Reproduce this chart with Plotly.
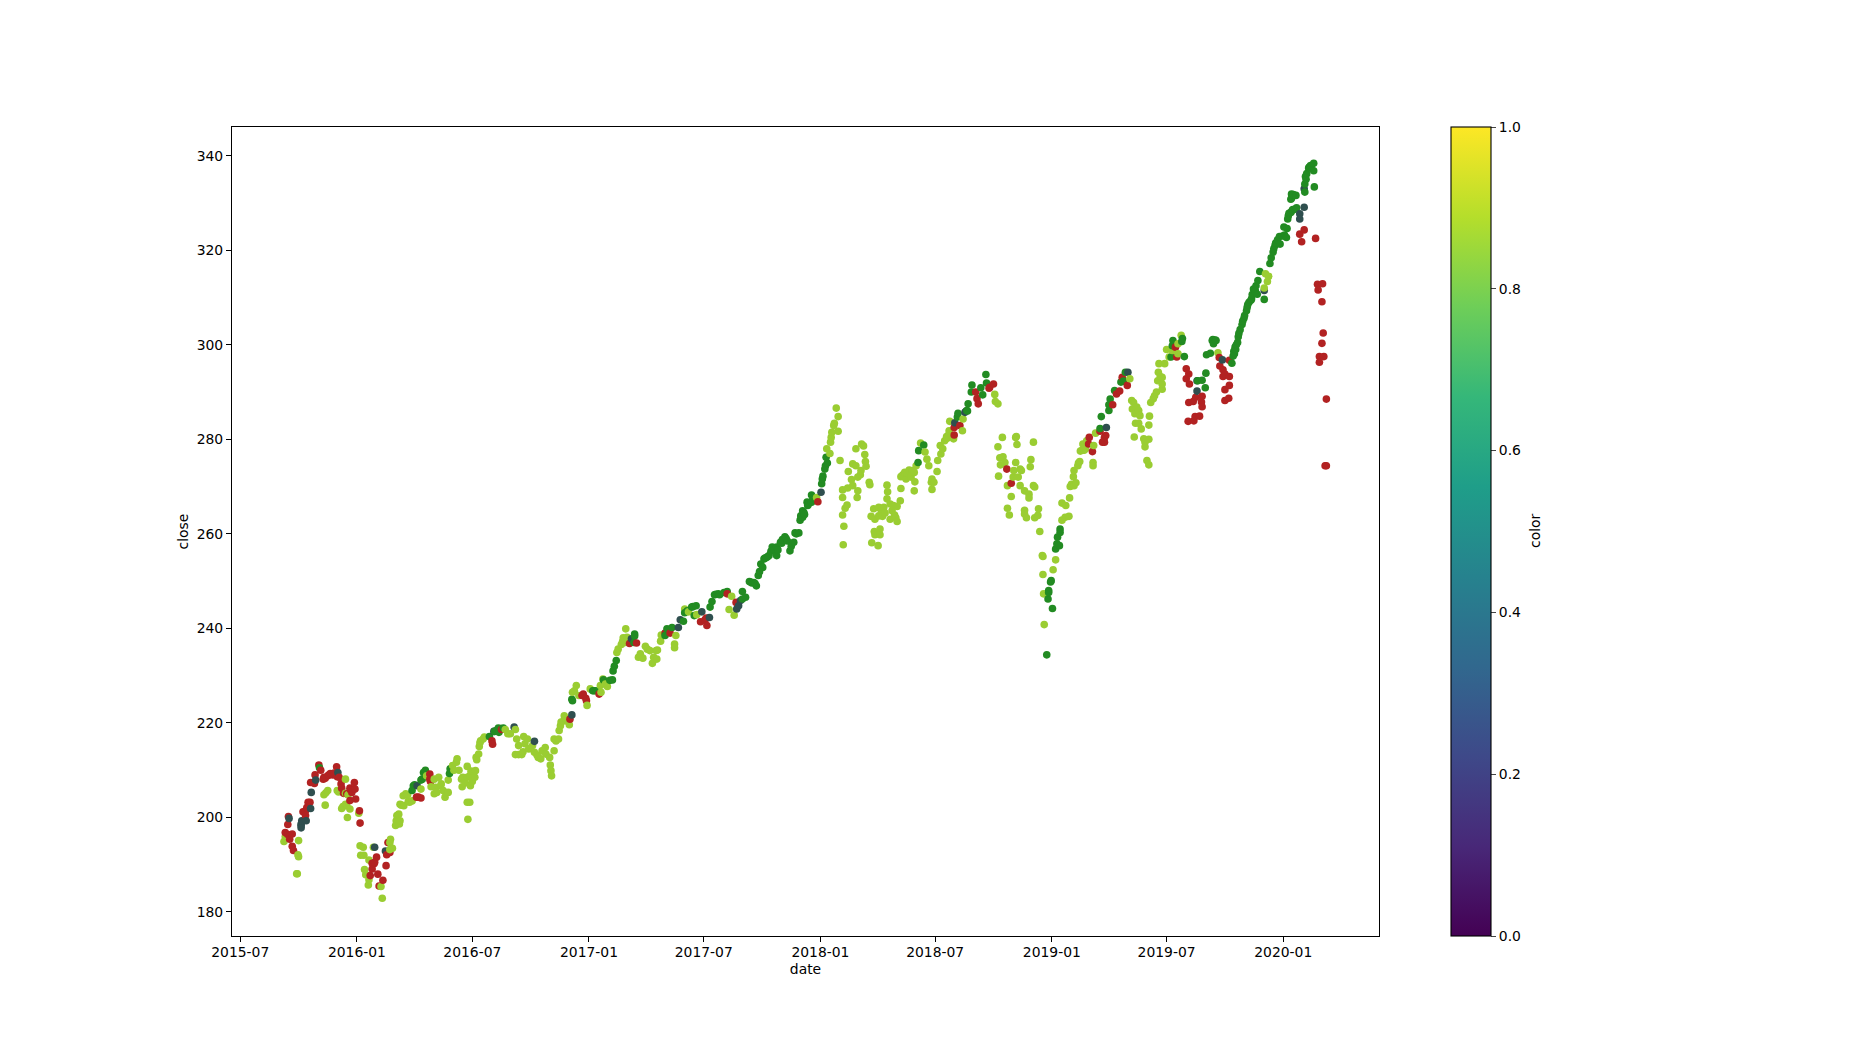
import plotly.graph_objects as go

# (date, close, signal); L lime, G green, R red, S slate
rows_2015 = [
("2015-09-08",194.9,"L"),("2015-09-10",195.9,"L"),("2015-09-10",196.8,"R"),("2015-09-15",200.2,"R"),("2015-09-16",199.8,"S"),
("2015-09-14",198.5,"R"),("2015-09-14",196.4,"R"),("2015-09-17",195.4,"R"),("2015-09-21",196.5,"R"),("2015-09-21",193.9,"R"),
("2015-09-23",193.0,"R"),("2015-10-01",195.1,"L"),("2015-09-30",192.1,"L"),("2015-10-01",191.7,"L"),("2015-09-28",188.1,"L"),
("2015-09-29",188.1,"L"),("2015-10-05",198.3,"S"),("2015-10-05",198.6,"S"),("2015-10-05",197.8,"S"),("2015-10-06",199.3,"S"),
("2015-10-13",199.3,"S"),("2015-10-08",201.2,"R"),("2015-10-12",201.4,"R"),("2015-10-12",200.4,"R"),("2015-10-16",203.2,"R"),
("2015-10-19",203.2,"R"),("2015-10-14",202.1,"R"),("2015-10-20",201.9,"S"),("2015-10-21",205.3,"S"),("2015-10-20",207.4,"R"),
("2015-10-27",209.0,"R"),("2015-11-02",211.1,"R"),("2015-11-03",210.5,"G"),("2015-11-05",210.0,"R"),("2015-10-28",207.9,"S"),
("2015-10-26",207.2,"R"),("2015-11-09",208.1,"R"),("2015-11-10",208.5,"R"),("2015-11-16",208.8,"R"),("2015-11-20",209.3,"R"),
("2015-11-24",209.0,"R"),("2015-11-30",210.7,"R"),("2015-12-02",209.5,"S"),("2015-12-01",208.6,"R"),("2015-12-04",208.5,"R"),
("2015-12-07",207.1,"R"),("2015-12-14",208.1,"L"),("2015-12-11",205.1,"R"),("2015-12-16",205.0,"R"),("2015-12-21",206.2,"R"),
("2015-12-28",207.4,"R"),("2015-12-29",206.0,"R"),("2015-12-24",205.3,"R"),("2015-12-30",203.9,"R"),("2015-12-21",203.6,"R"),
("2015-11-10",204.8,"L"),("2015-11-16",205.7,"L"),("2015-11-12",202.6,"L"),("2015-12-01",205.7,"L"),("2015-12-07",206.0,"L"),
("2015-12-14",205.1,"L"),("2015-12-14",202.8,"L"),("2015-12-08",201.9,"L"),("2015-12-21",201.8,"L"),("2015-12-17",200.0,"L"),
("2015-12-16",202.5,"L"),("2015-12-10",202.3,"L"),("2015-11-13",205.2,"L"),("2015-12-03",205.4,"L"),("2015-12-18",204.8,"L"),
("2015-11-12",208.3,"R"),("2015-11-18",209.0,"R"),("2015-11-26",209.4,"R"),("2015-12-08",206.2,"R"),("2015-12-22",205.8,"R"),
]

rows_2016 = [
("2016-01-05",201.4,"R"),("2016-01-04",200.9,"L"),("2016-01-06",198.8,"R"),("2016-01-06",194.0,"L"),("2016-01-11",193.7,"L"),
("2016-01-07",192.0,"L"),("2016-01-12",192.0,"L"),("2016-01-20",191.0,"L"),("2016-01-13",189.0,"L"),("2016-01-15",187.9,"L"),
("2016-01-19",185.7,"L"),("2016-01-20",186.8,"L"),("2016-01-27",193.7,"L"),("2016-01-29",193.7,"S"),("2016-01-25",190.3,"R"),
("2016-02-01",191.6,"R"),("2016-01-28",190.2,"R"),("2016-01-25",189.1,"R"),("2016-01-22",187.7,"R"),("2016-02-03",188.0,"R"),
("2016-01-29",190.5,"R"),("2016-02-16",189.8,"R"),("2016-02-11",186.7,"R"),("2016-02-05",185.5,"R"),("2016-02-08",185.4,"L"),
("2016-02-10",182.9,"L"),("2016-02-15",192.9,"S"),("2016-02-17",192.1,"R"),("2016-02-22",192.6,"R"),("2016-02-19",194.7,"R"),
("2016-02-23",195.4,"L"),("2016-02-22",194.7,"L"),("2016-02-26",193.5,"L"),("2016-02-22",193.2,"L"),("2016-03-02",198.3,"L"),
("2016-03-03",199.3,"L"),("2016-03-04",200.4,"L"),("2016-03-09",199.3,"L"),("2016-03-07",200.7,"L"),("2016-03-09",202.8,"L"),
("2016-03-15",202.5,"L"),("2016-03-14",204.6,"L"),("2016-03-21",204.8,"L"),("2016-03-24",203.2,"L"),("2016-03-11",202.6,"L"),
("2016-03-22",203.4,"L"),("2016-03-28",203.5,"L"),("2016-03-04",198.9,"L"),("2016-03-08",198.6,"L"),("2016-03-18",205.0,"L"),
("2016-03-28",205.7,"G"),("2016-03-30",206.7,"G"),("2016-04-05",206.7,"S"),("2016-04-01",206.9,"G"),("2016-04-07",204.3,"R"),
("2016-04-04",204.3,"R"),("2016-04-11",204.1,"R"),("2016-04-11",206.0,"L"),("2016-04-13",208.1,"G"),("2016-04-11",207.9,"G"),
("2016-04-18",210.0,"G"),("2016-04-15",209.5,"G"),("2016-04-20",208.8,"L"),("2016-04-25",209.2,"R"),("2016-04-25",208.1,"R"),
("2016-04-26",207.6,"R"),("2016-05-02",208.1,"L"),("2016-05-09",208.5,"L"),("2016-04-27",206.5,"L"),("2016-05-04",206.4,"L"),
("2016-05-02",205.0,"L"),("2016-05-12",206.7,"L"),("2016-05-13",207.1,"L"),("2016-05-06",205.3,"L"),("2016-05-16",205.7,"L"),
("2016-05-19",204.3,"L"),("2016-05-24",205.3,"L"),("2016-05-24",207.9,"L"),("2016-05-26",209.3,"G"),("2016-05-27",210.3,"G"),
("2016-06-02",210.0,"L"),("2016-05-31",211.0,"L"),("2016-06-07",212.4,"L"),("2016-06-06",211.7,"L"),("2016-06-10",210.0,"L"),
("2016-06-23",210.8,"L"),("2016-06-16",208.5,"L"),("2016-06-14",208.1,"L"),("2016-06-23",208.5,"L"),("2016-06-15",206.5,"L"),
("2016-06-28",206.7,"L"),("2016-07-06",209.9,"L"),("2016-07-05",208.5,"L"),("2016-06-29",209.8,"L"),("2016-06-23",203.2,"L"),
("2016-06-27",203.2,"L"),("2016-06-24",199.6,"L"),("2016-06-20",207.3,"L"),("2016-06-27",208.8,"L"),("2016-07-01",207.6,"L"),
("2016-07-07",212.7,"L"),("2016-07-11",213.4,"L"),("2016-07-12",215.0,"L"),("2016-07-14",216.2,"L"),("2016-07-20",217.0,"L"),
("2016-07-13",215.8,"L"),("2016-07-08",212.2,"L"),("2016-07-18",216.6,"L"),("2016-07-28",217.1,"G"),("2016-08-01",216.2,"R"),
("2016-08-02",215.5,"R"),("2016-08-04",218.2,"S"),("2016-08-05",218.2,"G"),("2016-08-11",218.9,"G"),("2016-08-19",218.9,"G"),
("2016-08-16",218.6,"R"),("2016-08-12",218.0,"G"),("2016-08-26",217.7,"L"),("2016-08-30",217.7,"L"),("2016-09-05",219.1,"S"),
("2016-09-07",218.6,"L"),("2016-09-09",216.6,"L"),("2016-09-12",215.2,"L"),("2016-09-20",217.1,"L"),("2016-09-26",216.6,"L"),
("2016-09-07",213.3,"L"),("2016-09-12",213.3,"L"),("2016-09-17",213.3,"L"),("2016-09-19",213.9,"L"),("2016-09-28",214.5,"L"),
("2016-10-04",215.2,"L"),("2016-10-07",216.1,"S"),("2016-10-07",213.8,"L"),("2016-10-13",212.7,"L"),("2016-10-17",212.4,"L"),
("2016-10-19",214.1,"L"),("2016-10-24",214.8,"L"),("2016-10-25",213.4,"L"),("2016-10-31",212.7,"L"),("2016-11-07",214.1,"L"),
("2016-11-01",211.1,"L"),("2016-11-02",209.9,"L"),("2016-11-03",208.8,"L"),("2016-11-07",216.6,"L"),("2016-11-14",216.6,"L"),
("2016-11-15",218.4,"L"),("2016-11-17",219.4,"L"),("2016-11-23",221.5,"L"),("2016-12-01",219.6,"L"),("2016-12-02",220.8,"R"),
("2016-12-05",221.7,"S"),("2016-11-22",220.4,"L"),("2016-11-29",220.3,"L"),("2016-11-10",216.2,"L"),("2016-10-21",214.0,"L"),
("2016-12-06",224.7,"G"),("2016-12-05",225.0,"G"),("2016-12-12",227.9,"L"),("2016-12-06",226.5,"L"),("2016-12-16",225.8,"L"),
("2016-12-21",225.8,"R"),("2016-12-23",226.1,"R"),("2016-12-28",224.7,"R"),("2016-12-29",223.7,"L"),("2016-12-27",225.2,"R"),
("2016-08-08",218.4,"G"),("2016-08-15",218.8,"G"),("2016-08-22",218.6,"L"),("2016-09-22",215.6,"L"),("2016-10-11",213.2,"L"),
("2016-11-18",220.2,"L"),("2016-11-25",221.0,"L"),("2016-12-09",226.8,"L"),
]

rows_2017 = [
("2017-01-03",227.2,"L"),("2017-01-09",226.8,"G"),("2017-01-17",226.1,"R"),("2017-01-07",226.8,"G"),("2017-01-12",226.8,"G"),
("2017-01-19",227.9,"L"),("2017-01-20",226.5,"L"),("2017-01-23",229.3,"L"),("2017-01-24",229.1,"G"),("2017-01-30",227.7,"L"),
("2017-02-07",229.1,"G"),("2017-01-27",228.2,"L"),("2017-02-08",231.0,"G"),("2017-02-10",232.0,"G"),("2017-02-13",233.2,"G"),
("2017-02-14",234.9,"L"),("2017-02-21",236.6,"L"),("2017-02-28",239.9,"L"),("2017-03-02",238.1,"L"),("2017-03-14",238.8,"G"),
("2017-03-14",238.4,"G"),("2017-03-09",237.8,"S"),("2017-03-06",236.8,"R"),("2017-03-17",236.9,"R"),("2017-03-13",237.0,"G"),
("2017-02-27",237.0,"L"),("2017-03-31",236.2,"L"),("2017-03-20",233.9,"L"),("2017-03-27",233.7,"L"),("2017-03-23",234.6,"L"),
("2017-04-03",235.6,"L"),("2017-04-07",235.3,"L"),("2017-04-17",235.3,"L"),("2017-04-19",235.4,"L"),("2017-04-18",233.5,"L"),
("2017-04-11",232.6,"L"),("2017-04-13",233.9,"L"),("2017-04-24",237.3,"L"),("2017-04-25",238.6,"L"),("2017-05-01",239.0,"R"),
("2017-05-01",238.5,"G"),("2017-05-04",239.9,"G"),("2017-05-12",240.2,"G"),("2017-05-09",239.0,"R"),("2017-05-18",238.5,"L"),
("2017-05-16",236.7,"L"),("2017-05-16",235.9,"L"),("2017-05-22",240.2,"S"),("2017-05-25",241.8,"S"),("2017-05-30",241.5,"G"),
("2017-06-01",244.1,"L"),("2017-06-01",243.3,"G"),("2017-06-07",243.5,"L"),("2017-06-12",244.5,"G"),("2017-06-19",244.8,"G"),
("2017-06-16",242.7,"G"),("2017-06-20",242.9,"L"),("2017-06-28",243.5,"S"),("2017-07-10",242.3,"S"),("2017-07-05",242.2,"R"),
("2017-06-26",241.4,"R"),("2017-07-03",241.8,"R"),("2017-07-06",240.6,"R"),("2017-07-11",244.5,"G"),("2017-07-14",245.7,"G"),
("2017-07-18",247.1,"G"),("2017-07-26",247.1,"G"),("2017-08-07",247.8,"G"),("2017-08-07",247.3,"R"),("2017-08-14",246.8,"L"),
("2017-08-10",244.0,"L"),("2017-08-18",242.8,"L"),("2017-08-21",245.5,"R"),("2017-08-28",245.9,"S"),("2017-08-25",244.8,"S"),
("2017-08-22",244.1,"S"),("2017-08-31",247.8,"G"),("2017-09-05",246.6,"G"),("2017-08-31",246.2,"G"),("2017-09-11",249.9,"G"),
("2017-09-18",249.7,"G"),("2017-09-22",249.0,"G"),("2017-09-25",251.2,"G"),("2017-10-02",252.9,"G"),("2017-10-04",254.7,"G"),
("2017-10-12",255.4,"G"),("2017-10-24",255.4,"G"),("2017-10-17",257.2,"G"),("2017-10-24",257.2,"G"),("2017-11-06",259.4,"G"),
("2017-10-30",258.2,"G"),("2017-11-20",258.2,"G"),("2017-11-14",256.4,"G"),("2017-11-22",260.2,"G"),("2017-11-28",260.2,"G"),
("2017-11-30",262.9,"G"),("2017-12-04",264.9,"G"),("2017-12-07",264.1,"G"),("2017-12-12",266.0,"G"),("2017-12-18",266.7,"G"),
("2017-12-28",266.8,"R"),("2017-09-27",252.0,"G"),("2017-09-29",253.6,"G"),("2017-10-08",255.0,"G"),("2017-10-20",256.6,"G"),
("2017-11-02",258.8,"G"),("2017-11-10",258.5,"G"),("2017-11-16",257.4,"G"),("2017-12-01",263.8,"G"),("2017-12-04",263.5,"G"),
("2017-12-11",266.7,"G"),("2017-12-18",268.2,"G"),("2017-12-26",267.7,"L"),("2017-09-13",249.8,"G"),("2017-09-15",249.6,"G"),
("2017-09-20",249.5,"G"),("2017-10-06",254.9,"G"),("2017-10-10",255.2,"G"),("2017-10-15",256.3,"G"),("2017-10-26",256.6,"G"),
("2017-11-01",258.0,"G"),("2017-11-08",259.0,"G"),("2017-11-24",260.0,"G"),("2017-12-06",264.5,"G"),("2017-12-14",266.4,"G"),
("2017-12-20",267.6,"G"),("2017-02-03",229.0,"G"),("2017-02-16",235.6,"L"),("2017-02-23",237.2,"L"),("2017-02-24",238.0,"L"),
("2017-07-20",247.2,"G"),("2017-07-24",247.3,"G"),("2017-08-02",247.6,"G"),("2017-06-05",243.7,"G"),("2017-06-14",244.6,"G"),
]

rows_2018 = [
("2018-01-02",268.8,"S"),("2018-01-03",270.6,"G"),("2018-01-04",271.6,"G"),("2018-01-08",273.7,"G"),("2018-01-09",274.4,"G"),
("2018-01-10",276.2,"G"),("2018-01-16",277.0,"L"),("2018-01-11",278.0,"L"),("2018-01-17",279.4,"L"),("2018-01-18",280.4,"L"),
("2018-01-22",282.9,"L"),("2018-01-23",283.4,"L"),("2018-01-29",281.7,"L"),("2018-01-29",284.8,"L"),("2018-01-26",286.6,"L"),
("2018-02-01",275.5,"L"),("2018-02-06",257.7,"L"),("2018-02-07",261.6,"L"),("2018-02-05",264.0,"L"),("2018-02-09",265.4,"L"),
("2018-02-12",266.1,"L"),("2018-02-05",267.7,"L"),("2018-02-05",269.3,"L"),("2018-02-13",269.7,"L"),("2018-02-21",270.2,"L"),
("2018-02-19",271.5,"L"),("2018-03-01",272.0,"L"),("2018-03-05",272.5,"L"),("2018-03-06",273.4,"L"),("2018-02-14",273.2,"L"),
("2018-02-21",274.8,"L"),("2018-02-26",274.4,"L"),("2018-03-13",275.3,"L"),("2018-03-14",274.3,"L"),("2018-03-12",276.8,"L"),
("2018-02-26",278.0,"L"),("2018-03-07",279.0,"L"),("2018-03-10",278.6,"L"),("2018-03-01",269.1,"L"),("2018-02-28",267.7,"L"),
("2018-03-19",270.9,"L"),("2018-03-20",270.4,"L"),("2018-03-22",263.7,"L"),("2018-03-26",265.3,"L"),("2018-03-28",263.1,"L"),
("2018-04-03",263.8,"L"),("2018-04-03",265.6,"L"),("2018-04-11",265.6,"L"),("2018-04-09",263.7,"L"),("2018-04-16",267.4,"L"),
("2018-04-16",270.3,"L"),("2018-04-17",268.9,"L"),("2018-04-21",266.3,"L"),("2018-04-26",266.0,"L"),("2018-05-07",267.0,"L"),
("2018-05-02",265.8,"L"),("2018-04-21",263.1,"L"),("2018-04-30",263.4,"L"),("2018-05-02",262.6,"L"),("2018-03-27",260.5,"L"),
("2018-04-05",261.0,"L"),("2018-04-02",260.0,"L"),("2018-04-05",259.8,"L"),("2018-03-28",259.8,"L"),("2018-03-23",258.1,"L"),
("2018-04-02",257.5,"L"),("2018-04-13",264.4,"L"),("2018-04-24",264.9,"L"),("2018-04-07",264.9,"L"),("2018-04-28",264.0,"L"),
("2018-05-08",269.6,"L"),("2018-05-08",272.1,"L"),("2018-05-14",273.0,"L"),("2018-05-21",273.5,"L"),("2018-05-16",271.6,"L"),
("2018-05-29",273.0,"L"),("2018-05-24",272.0,"L"),("2018-05-30",271.0,"L"),("2018-05-29",269.1,"L"),("2018-06-01",274.4,"L"),
("2018-05-11",272.5,"L"),("2018-05-18",272.8,"L"),("2018-05-26",273.4,"L"),("2018-06-04",275.1,"G"),("2018-06-05",277.6,"G"),
("2018-06-13",278.8,"G"),("2018-06-08",279.2,"L"),("2018-06-15",277.3,"L"),("2018-06-18",275.8,"L"),("2018-06-21",274.4,"L"),
("2018-06-26",271.6,"L"),("2018-06-25",270.9,"L"),("2018-06-29",270.9,"L"),("2018-06-26",269.4,"L"),("2018-07-04",273.2,"L"),
("2018-07-05",275.5,"L"),("2018-07-10",276.9,"L"),("2018-07-09",278.7,"L"),("2018-07-16",279.7,"L"),("2018-07-23",281.1,"L"),
("2018-07-23",281.8,"L"),("2018-07-30",280.1,"L"),("2018-07-24",283.8,"L"),("2018-08-13",281.8,"L"),("2018-08-14",284.3,"L"),
("2018-07-19",280.6,"L"),("2018-07-27",280.8,"L"),("2018-07-31",280.9,"R"),("2018-07-31",282.5,"R"),("2018-08-01",283.5,"S"),
("2018-08-09",282.9,"R"),("2018-08-06",285.5,"G"),("2018-08-05",284.7,"G"),("2018-08-17",285.7,"S"),("2018-08-20",286.1,"G"),
("2018-08-19",286.0,"S"),("2018-08-21",286.0,"G"),("2018-08-22",287.5,"G"),("2018-08-27",290.0,"G"),("2018-08-28",291.5,"G"),
("2018-09-03",290.0,"R"),("2018-09-05",288.6,"R"),("2018-09-07",287.5,"R"),("2018-09-11",290.9,"G"),("2018-09-14",289.4,"G"),
("2018-09-19",293.7,"G"),("2018-09-20",291.9,"G"),("2018-09-24",290.8,"R"),("2018-09-25",291.0,"R"),("2018-10-01",291.7,"R"),
("2018-10-03",289.5,"L"),("2018-10-04",288.0,"L"),("2018-10-08",287.5,"L"),("2018-10-15",280.4,"L"),("2018-10-08",278.4,"L"),
("2018-10-16",276.3,"L"),("2018-10-11",276.1,"L"),("2018-10-12",274.6,"L"),("2018-10-19",275.1,"L"),("2018-10-22",273.7,"R"),
("2018-10-09",272.2,"L"),("2018-10-23",270.2,"L"),("2018-10-29",270.7,"R"),("2018-11-05",280.4,"L"),("2018-11-06",280.6,"L"),
("2018-11-07",278.9,"L"),("2018-11-05",275.1,"L"),("2018-11-02",273.4,"L"),("2018-11-12",273.7,"L"),("2018-11-01",272.0,"L"),
("2018-11-09",272.0,"L"),("2018-11-14",273.4,"L"),("2018-11-12",270.2,"L"),("2018-11-19",269.1,"L"),("2018-11-26",268.4,"L"),
("2018-11-26",267.6,"L"),("2018-12-03",279.4,"L"),("2018-11-29",275.7,"L"),("2018-11-28",274.2,"L"),("2018-12-03",270.2,"L"),
("2018-12-05",269.9,"L"),("2018-10-29",267.9,"L"),("2018-10-23",265.4,"L"),("2018-10-26",264.0,"L"),("2018-11-19",265.0,"L"),
("2018-11-19",264.2,"L"),("2018-11-22",263.4,"L"),("2018-12-11",265.3,"L"),("2018-12-10",263.9,"L"),("2018-12-05",263.4,"L"),
("2018-12-13",260.5,"L"),("2018-12-17",255.4,"L"),("2018-12-18",255.2,"L"),("2018-12-18",251.4,"L"),("2018-12-19",247.3,"L"),
("2018-12-20",240.8,"L"),("2018-12-24",234.4,"G"),("2018-12-26",246.2,"G"),("2018-12-27",248.0,"G"),("2018-12-31",250.1,"G"),
("2018-12-30",249.8,"G"),("2018-12-27",247.6,"G"),("2018-01-05",272.2,"G"),("2018-01-12",275.0,"G"),("2018-01-19",281.5,"L"),
("2018-07-13",278.0,"L"),("2018-07-20",280.2,"L"),
]

rows_2019 = [
("2019-01-02",244.2,"G"),("2019-01-03",252.4,"L"),("2019-01-07",254.5,"L"),("2019-01-07",256.8,"G"),("2019-01-13",257.5,"G"),
("2019-01-09",257.9,"G"),("2019-01-10",259.3,"G"),("2019-01-14",261.0,"G"),("2019-01-14",260.3,"G"),("2019-01-17",262.9,"L"),
("2019-01-22",263.5,"L"),("2019-01-28",263.7,"L"),("2019-01-23",266.0,"L"),("2019-01-17",266.5,"L"),("2019-01-29",267.6,"L"),
("2019-01-30",270.0,"L"),("2019-02-05",270.2,"L"),("2019-02-08",270.8,"L"),("2019-02-04",272.1,"L"),("2019-02-05",273.4,"L"),
("2019-02-11",274.4,"L"),("2019-02-14",275.3,"L"),("2019-03-07",275.1,"L"),("2019-03-07",274.4,"L"),("2019-02-15",277.5,"L"),
("2019-02-21",277.7,"L"),("2019-02-19",279.0,"L"),("2019-02-25",279.7,"L"),("2019-03-11",281.3,"L"),("2019-03-08",278.7,"L"),
("2019-02-01",270.5,"L"),("2019-02-12",275.0,"L"),("2019-02-18",277.7,"L"),("2019-02-23",278.0,"L"),("2019-02-28",279.0,"R"),
("2019-03-01",280.4,"R"),("2019-03-06",277.4,"R"),("2019-03-22",279.4,"R"),("2019-03-25",279.4,"R"),("2019-03-25",280.4,"R"),
("2019-03-27",280.8,"R"),("2019-03-18",281.7,"R"),("2019-03-18",282.3,"G"),("2019-03-28",282.5,"S"),("2019-03-20",284.8,"G"),
("2019-04-01",286.1,"G"),("2019-04-07",287.3,"R"),("2019-04-01",287.3,"G"),("2019-04-03",288.5,"G"),("2019-04-13",289.6,"R"),
("2019-04-10",290.3,"G"),("2019-04-18",290.2,"R"),("2019-04-20",292.1,"G"),("2019-04-22",293.1,"R"),("2019-04-30",291.4,"R"),
("2019-04-27",294.2,"G"),("2019-05-01",294.2,"S"),("2019-05-04",292.8,"L"),("2019-04-24",292.3,"G"),
("2019-05-07",288.2,"L"),("2019-05-10",287.8,"L"),("2019-05-08",286.4,"L"),("2019-05-15",286.8,"L"),("2019-05-18",286.1,"L"),
("2019-05-12",285.4,"L"),("2019-05-20",285.0,"L"),("2019-05-13",283.4,"L"),("2019-05-18",283.4,"L"),("2019-05-22",282.2,"L"),
("2019-05-11",280.5,"L"),("2019-05-26",280.1,"L"),("2019-06-03",280.0,"L"),("2019-06-03",283.0,"L"),("2019-06-04",284.9,"L"),
("2019-05-28",279.4,"L"),("2019-05-28",278.4,"L"),("2019-05-31",275.5,"L"),("2019-06-03",274.6,"L"),("2019-06-06",287.8,"L"),
("2019-06-12",289.2,"L"),("2019-06-15",290.0,"L"),("2019-06-24",290.6,"L"),("2019-06-24",291.7,"L"),("2019-06-17",292.4,"L"),
("2019-06-24",293.1,"L"),("2019-06-18",294.2,"L"),("2019-06-28",296.0,"L"),("2019-06-19",296.0,"L"),("2019-07-01",299.0,"L"),
("2019-07-05",297.4,"L"),("2019-07-10",298.8,"L"),("2019-06-21",293.3,"L"),("2019-06-10",288.6,"L"),("2019-07-08",297.4,"G"),
("2019-07-10",299.8,"G"),("2019-07-11",300.9,"G"),("2019-07-15",299.5,"R"),("2019-07-17",297.4,"R"),("2019-07-19",298.1,"L"),
("2019-07-19",300.2,"L"),("2019-07-24",302.0,"L"),("2019-07-26",301.3,"G"),("2019-07-25",300.7,"G"),("2019-07-29",297.5,"G"),
("2019-08-01",294.9,"R"),("2019-08-05",293.8,"R"),("2019-08-01",292.8,"R"),("2019-08-06",291.7,"R"),("2019-08-18",292.4,"S"),
("2019-08-19",292.4,"G"),("2019-08-26",292.5,"G"),("2019-09-01",294.0,"G"),("2019-08-31",290.9,"G"),("2019-08-18",290.2,"S"),
("2019-08-26",289.1,"R"),("2019-08-25",287.9,"R"),("2019-08-26",286.9,"R"),("2019-08-16",288.9,"R"),("2019-08-12",288.0,"R"),
("2019-08-05",287.8,"R"),("2019-08-04",283.8,"R"),("2019-08-13",283.9,"R"),("2019-08-15",284.8,"R"),("2019-08-22",284.9,"R"),
("2019-09-02",297.9,"G"),("2019-09-08",298.2,"G"),("2019-09-11",300.9,"G"),("2019-09-17",300.9,"G"),("2019-09-13",300.2,"G"),
("2019-09-20",298.3,"L"),("2019-09-22",297.3,"R"),("2019-09-27",296.8,"S"),("2019-09-23",295.5,"R"),("2019-09-28",294.7,"R"),
("2019-10-01",293.8,"R"),("2019-09-28",293.3,"R"),("2019-10-08",293.3,"R"),("2019-10-08",291.4,"R"),("2019-10-01",290.5,"R"),
("2019-10-07",288.7,"R"),("2019-10-01",288.2,"R"),("2019-10-08",296.7,"R"),("2019-10-12",296.1,"G"),("2019-10-16",298.1,"G"),
("2019-10-17",299.5,"G"),("2019-10-21",300.5,"G"),("2019-10-22",301.7,"G"),("2019-10-25",303.2,"G"),("2019-10-28",304.3,"G"),
("2019-10-15",298.6,"G"),("2019-10-18",299.0,"G"),("2019-10-19",300.0,"G"),("2019-11-01",306.2,"G"),("2019-11-04",307.2,"G"),
("2019-11-06",308.5,"G"),("2019-11-08",309.0,"G"),("2019-11-12",309.7,"G"),("2019-11-15",311.8,"G"),("2019-11-21",310.7,"G"),
("2019-11-18",311.4,"G"),("2019-11-22",313.6,"G"),("2019-11-25",315.5,"G"),("2019-12-02",309.6,"G"),("2019-12-02",311.5,"S"),
("2019-12-02",312.0,"L"),("2019-12-04",315.0,"L"),("2019-12-09",314.5,"L"),("2019-12-07",313.4,"L"),("2019-12-11",317.2,"G"),
("2019-12-16",319.6,"G"),("2019-12-19",321.0,"G"),("2019-12-27",321.3,"G"),("2019-12-26",322.9,"G"),("2019-12-31",323.0,"G"),
("2019-10-23",302.4,"G"),("2019-10-29",305.0,"G"),("2019-10-31",305.6,"G"),("2019-11-05",307.9,"G"),("2019-11-11",309.4,"G"),
("2019-11-13",310.6,"G"),("2019-11-19",312.5,"G"),("2019-12-13",318.4,"G"),("2019-12-17",320.3,"G"),("2019-12-20",321.5,"G"),
("2019-12-23",322.2,"G"),("2019-10-14",297.6,"G"),("2019-09-12",301.1,"G"),("2019-09-16",301.0,"G"),
]

rows_2020 = [
("2020-01-02",324.9,"G"),("2020-01-06",322.7,"G"),("2020-01-08",326.6,"G"),("2020-01-13",328.0,"G"),("2020-01-22",329.0,"G"),
("2020-01-03",323.2,"G"),("2020-01-07",324.6,"G"),("2020-02-03",329.1,"S"),("2020-01-27",327.7,"S"),("2020-01-27",326.6,"S"),
("2020-01-27",323.4,"R"),("2020-02-03",324.3,"R"),("2020-01-30",321.8,"R"),("2020-02-21",322.5,"R"),("2020-01-14",331.9,"G"),
("2020-01-21",331.6,"G"),("2020-01-13",330.8,"G"),("2020-01-17",331.8,"G"),("2020-02-03",333.0,"S"),("2020-02-04",332.3,"G"),
("2020-02-19",333.4,"G"),("2020-02-06",335.0,"G"),("2020-02-04",334.0,"G"),("2020-02-10",337.4,"G"),("2020-02-18",336.8,"G"),
("2020-02-18",338.4,"G"),("2020-02-12",337.5,"G"),("2020-03-03",312.9,"R"),("2020-02-24",312.8,"R"),("2020-02-25",311.6,"R"),
("2020-03-02",309.1,"R"),("2020-03-04",302.5,"R"),("2020-03-02",300.3,"R"),("2020-03-05",297.5,"R"),("2020-02-27",297.5,"R"),
("2020-02-27",296.3,"R"),("2020-03-09",288.5,"R"),("2020-03-09",274.4,"R"),("2020-03-07",274.4,"R"),("2020-01-09",327.3,"G"),
("2020-01-10",327.8,"G"),("2020-01-15",328.4,"G"),("2020-01-16",328.6,"G"),("2020-01-20",328.7,"G"),("2020-01-14",331.0,"G"),
("2020-01-16",331.6,"G"),("2020-02-05",335.6,"G"),("2020-02-07",336.2,"G"),("2020-02-11",337.6,"G"),("2020-02-13",337.9,"G"),
("2020-02-14",337.7,"G"),
]

signal_colors = {"L": "#9ACD32", "G": "#228B22", "R": "#B22222", "S": "#2F4F4F"}
year_ticks = ["2015-07-01", "2016-01-01", "2016-07-01", "2017-01-01", "2017-07-01",
              "2018-01-01", "2018-07-01", "2019-01-01", "2019-07-01", "2020-01-01"]
year_labels = ["2015-07", "2016-01", "2016-07", "2017-01", "2017-07",
               "2018-01", "2018-07", "2019-01", "2019-07", "2020-01"]
close_ticks = [180, 200, 220, 240, 260, 280, 300, 320, 340]

rows = sorted(rows_2015 + rows_2016 + rows_2017 + rows_2018 + rows_2019 + rows_2020, key=lambda r: r[0])
dates = [r[0] for r in rows]
closes = [r[1] for r in rows]
colors = [signal_colors[r[2]] for r in rows]

FONT = "DejaVu Sans"
PLOT_W = 1147.0
fig = go.Figure()
fig.add_trace(go.Scatter(x=dates, y=closes, mode="markers", showlegend=False,
                         marker=dict(color=colors, size=7.6, line=dict(width=0))))
fig.add_trace(go.Scatter(x=[None], y=[None], mode="markers", showlegend=False, hoverinfo="skip",
    marker=dict(color=[0.5], cmin=0, cmax=1, colorscale="Viridis", showscale=True,
        colorbar=dict(x=1.0631, xanchor="left", xpad=0, y=0, yanchor="bottom", ypad=0, len=1,
            lenmode="fraction", thickness=39.6, thicknessmode="pixels",
            outlinewidth=1.1, outlinecolor="black", ticks="outside", ticklen=5, tickwidth=1,
            tickvals=[0, 0.2, 0.4, 0.6, 0.8, 1.0], tickformat=".1f",
            tickfont=dict(family=FONT, size=13.9, color="black")))))

axis = dict(showgrid=False, zeroline=False, showline=True, mirror=True, linecolor="black", linewidth=1.1,
            ticks="outside", ticklen=5, tickwidth=1, tickcolor="black",
            tickfont=dict(family=FONT, size=13.9, color="black"))
fig.update_layout(
    width=1850, height=1050, paper_bgcolor="white", plot_bgcolor="white", showlegend=False,
    margin=dict(l=232, r=471, t=127, b=114, autoexpand=False),
    xaxis=dict(axis, type="date", range=["2015-06-18", "2020-05-31"], tickmode="array",
               tickvals=year_ticks, ticktext=year_labels, ticklabelstandoff=-2,
               title=dict(text="date", standoff=5, font=dict(family=FONT, size=13.9, color="black"))),
    yaxis=dict(axis, range=[174.92, 346.07], tickmode="array", tickvals=close_ticks,
               title=dict(text="close", standoff=4, font=dict(family=FONT, size=13.9, color="black"))),
    annotations=[dict(text="color", xref="paper", yref="paper", x=(1534.5 - 232) / PLOT_W, y=0.5,
                      xanchor="center", yanchor="middle", textangle=-90, showarrow=False,
                      font=dict(family=FONT, size=13.9, color="black"))],
)
fig.write_html("out.html", config={"displayModeBar": False},
               post_script="document.body.style.margin='0';window.dispatchEvent(new Event('resize'));")
